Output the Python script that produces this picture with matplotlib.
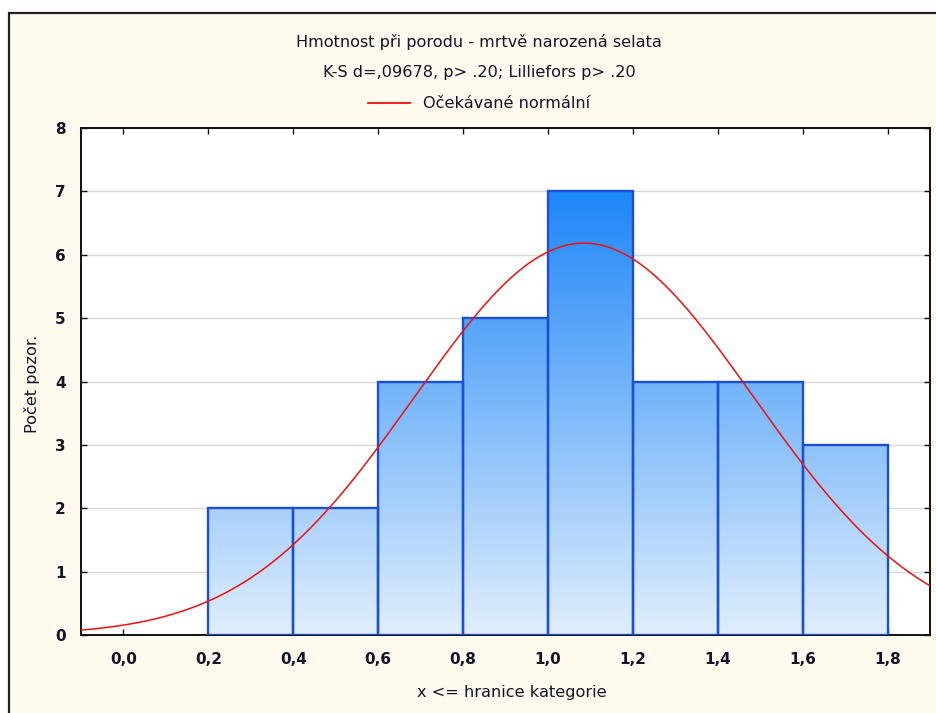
import numpy as np
import matplotlib
matplotlib.use("Agg")
import matplotlib.pyplot as plt
from matplotlib.colors import LinearSegmentedColormap
from matplotlib.patches import Rectangle
from matplotlib.lines import Line2D

plt.rcParams['font.family'] = ['DejaVu Sans']

# Histogram data: class boundaries and counts
bin_edges = [0.2, 0.4, 0.6, 0.8, 1.0, 1.2, 1.4, 1.6, 1.8]
counts = [2, 2, 4, 5, 7, 4, 4, 3]

# Fitted normal distribution parameters
fit_mean = 1.085
fit_sd = 0.40

x_ticks = [0.0, 0.2, 0.4, 0.6, 0.8, 1.0, 1.2, 1.4, 1.6, 1.8]
x_tick_labels = ["0,0", "0,2", "0,4", "0,6", "0,8", "1,0", "1,2", "1,4", "1,6", "1,8"]
y_ticks = [0, 1, 2, 3, 4, 5, 6, 7, 8]

title_line1 = "Hmotnost při porodu - mrtvě narozená selata"
title_line2 = "K-S d=,09678, p> .20; Lilliefors p> .20"
legend_label = "Očekávané normální"
x_label = "x <= hranice kategorie"
y_label = "Počet pozor."

W, H = 936, 713
FS = 11.6
TXT = "#141428"

fig = plt.figure(figsize=(W / 100, H / 100), dpi=100)
fig.patch.set_facecolor("white")

# cream panel with a dark edge on the left and top
panel = Rectangle((9 / W, -0.05), 1.0, 1.05 - 13 / H, transform=fig.transFigure,
                  facecolor="#FFF9EE", edgecolor="#202020", linewidth=1.6,
                  zorder=-10)
fig.patches.append(panel)

ax = fig.add_axes([81 / W, 1 - 635 / H, (930 - 81) / W, (635 - 128) / H])
ax.set_facecolor("white")

ax.yaxis.grid(True, color="#D8D8D8", linewidth=1.0)
ax.set_axisbelow(True)

# gradient-filled bars, shaded by height on a shared scale
cmap = LinearSegmentedColormap.from_list("bars", ["#E0EEFC", "#7FBAFA", "#1E86F8"])
ymax = max(counts)
for left, right, c in zip(bin_edges[:-1], bin_edges[1:], counts):
    grad = np.linspace(0, c / ymax, 256).reshape(-1, 1)
    im = ax.imshow(grad, cmap=cmap, vmin=0, vmax=1, origin="lower",
                   extent=(left, right, 0, c), aspect="auto",
                   interpolation="bilinear", zorder=2)
    rect = Rectangle((left, 0), right - left, c, facecolor="none",
                     edgecolor="#1A4FD6", linewidth=1.7, zorder=3)
    ax.add_patch(rect)
    im.set_clip_path(rect)
ax.set_xlim(-0.1, 1.9)
ax.set_ylim(0, 8)

# expected normal counts
n_total = sum(counts)
width = bin_edges[1] - bin_edges[0]
xs = np.linspace(-0.1, 1.9, 400)
ys = n_total * width * np.exp(-0.5 * ((xs - fit_mean) / fit_sd) ** 2) / (fit_sd * np.sqrt(2 * np.pi))
ax.plot(xs, ys, color="#F01010", linewidth=1.1, zorder=4)

ax.set_xticks(x_ticks)
ax.set_xticklabels(x_tick_labels)
ax.set_yticks(y_ticks)
ax.tick_params(direction="in", length=4, width=1, top=True, right=True,
               labelsize=11, colors="#101010")
ax.tick_params(axis="y", pad=11)
ax.tick_params(axis="x", pad=12)
for lbl in ax.get_xticklabels() + ax.get_yticklabels():
    lbl.set_color(TXT)
    lbl.set_fontweight("bold")
for s in ax.spines.values():
    s.set_linewidth(1.4)
    s.set_color("#101010")

fig.text(479 / W, 1 - 42 / H, title_line1, ha="center", va="center", fontsize=FS, color=TXT)
fig.text(479 / W, 1 - 73 / H, title_line2, ha="center", va="center", fontsize=FS, color=TXT)
handle = Line2D([], [], color="#F01010", linewidth=1.3)
fig.legend([handle], [legend_label], loc="center", bbox_to_anchor=(479 / W, 1 - 104 / H),
           frameon=False, fontsize=FS, handlelength=2.6, handletextpad=0.8,
           labelcolor=TXT)

fig.text(512 / W, 1 - 692 / H, x_label, ha="center", va="center", fontsize=FS, color=TXT)
fig.text(32 / W, 1 - 384 / H, y_label, ha="center", va="center", rotation=90,
         fontsize=FS, color=TXT)

fig.savefig("out.png", dpi=100, facecolor=fig.get_facecolor())
